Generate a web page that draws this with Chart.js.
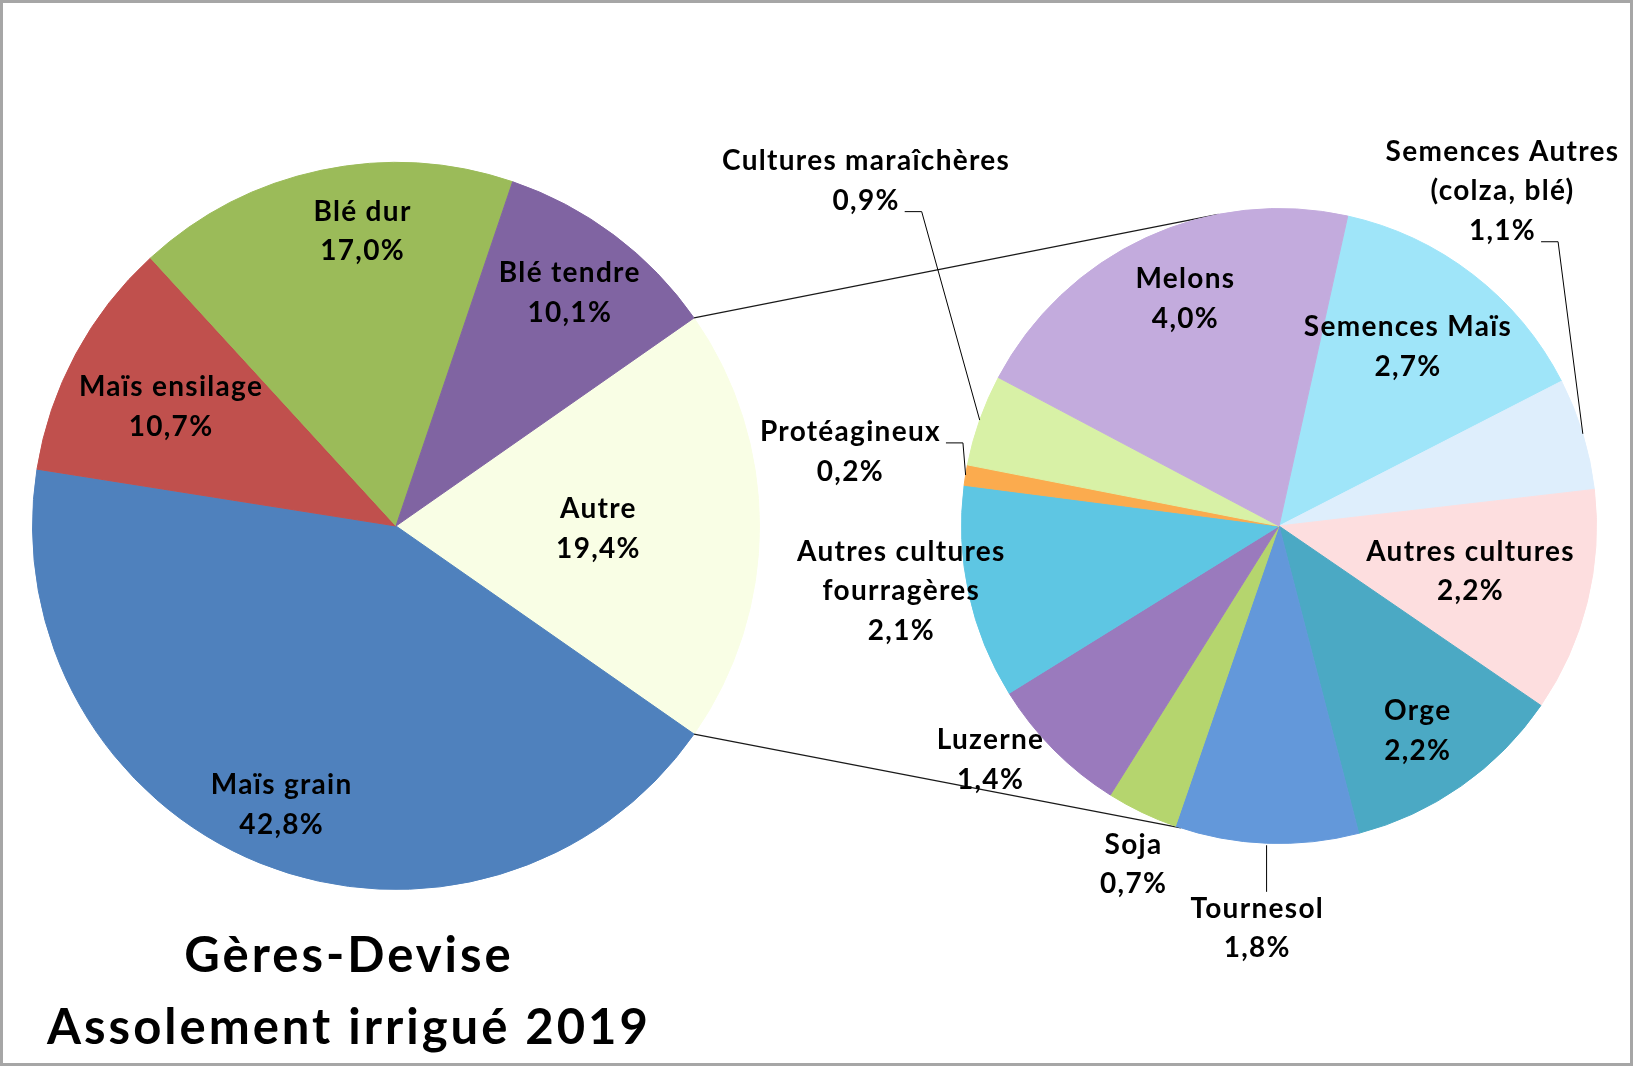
<!DOCTYPE html>
<html>
<head>
<meta charset="utf-8">
<script src="https://cdn.jsdelivr.net/npm/chart.js@4/dist/chart.umd.min.js"></script>
<style>
html,body{margin:0;padding:0;background:#fff;}
#wrap{position:relative;width:1633px;height:1066px;overflow:hidden;background:#fff;}
canvas{position:absolute;left:0;top:0;}
#frame{position:absolute;left:0;top:0;width:1633px;height:1066px;box-sizing:border-box;border:3px solid #A6A6A6;pointer-events:none;}
.title{position:absolute;left:-51px;width:800px;text-align:center;font-family:Lato,"Open Sans",sans-serif;font-weight:bold;font-size:49px;line-height:49px;letter-spacing:3px;color:#000;white-space:nowrap;}
</style>
</head>
<body>
<div id="wrap">
  <canvas id="mainPie" width="1633" height="1066"></canvas>
  <canvas id="subPie" width="1633" height="1066"></canvas>
  <div class="title" id="t1" style="top:929px"></div>
  <div class="title" id="t2" style="top:1001px"></div>
  <div id="frame"></div>
</div>
<script>
// ---------- DATA ----------
const mainLabels = ['Autre', 'Maïs grain', 'Maïs ensilage', 'Blé dur', 'Blé tendre'];
const mainValues = [19.4, 42.8, 10.7, 17.0, 10.1];
const mainColors = ['#F9FEE5', '#4F81BD', '#C0504D', '#9BBB59', '#8064A2'];

const subLabels = ['Semences Maïs', 'Semences Autres\n(colza, blé)', 'Autres cultures', 'Orge', 'Tournesol', 'Soja', 'Luzerne', 'Autres cultures\nfourragères', 'Protéagineux', 'Cultures maraîchères', 'Melons'];
const subValues = [2.7, 1.1, 2.2, 2.2, 1.8, 0.7, 1.4, 2.1, 0.2, 0.9, 4.0];
const subColors = ['#9FE5F9', '#DEEEFC', '#FDDEDF', '#4BA9C4', '#6398DA', '#B5D56E', '#9A7ABD', '#5EC6E3', '#FBAB4E', '#D8F1A6', '#C3ABDD'];

const titleLines = ['Gères-Devise', 'Assolement irrigué 2019'];

// ---------- STYLE / LAYOUT ----------
const FONT_FAMILY = 'Lato, "Open Sans", sans-serif';
const FONT = 'bold 28px ' + FONT_FAMILY;
const LETTER_SPACING = '1.3px';
const LINE_H = 39.6;

// label placement: radius factor of outer radius, angle offset from slice middle (deg)
const mainPlace = [
  {rf: 0.557, da: 0.9},
  {rf: 0.83, da: 0.3},
  {rf: 0.70, da: -0.4},
  {rf: 0.815, da: 5.4},
  {rf: 0.80, da: -0.2}
];
const subPlace = [
  {rf: 0.695, da: -1.9},
  {rf: 1.268, da: -39.4, leader: 'side', line: 2},
  {rf: 0.62, da: -0.5},
  {rf: 0.78, da: 1.0},
  {rf: 1.27, da: 0.85, leader: 'top'},
  {rf: 1.16, da: -2.3},
  {rf: 1.17, da: 5.8},
  {rf: 1.207, da: 2.4},
  {rf: 1.37, da: 0.6, leader: 'side', line: 0},
  {rf: 1.695, da: 20.4, leader: 'side', line: 1},
  {rf: 0.773, da: 2.4}
];

document.getElementById('t1').textContent = titleLines[0];
document.getElementById('t2').textContent = titleLines[1];

function pct(v) { return v.toFixed(1).replace('.', ',') + '%'; }

function labelPlugin(labels, values, place) {
  return {
    id: 'sliceLabels',
    afterDatasetsDraw(chart) {
      const ctx = chart.ctx;
      const meta = chart.getDatasetMeta(0);
      ctx.save();
      ctx.font = FONT;
      if ('letterSpacing' in ctx) ctx.letterSpacing = LETTER_SPACING;
      ctx.fillStyle = '#000';
      ctx.strokeStyle = '#000';
      ctx.lineWidth = 1;
      ctx.textAlign = 'center';
      ctx.textBaseline = 'middle';
      meta.data.forEach((arc, i) => {
        const p = place[i];
        const mid = (arc.startAngle + arc.endAngle) / 2;
        const a = mid + p.da * Math.PI / 180;
        const r = arc.outerRadius * p.rf;
        const cx = arc.x + r * Math.cos(a);
        const cy = arc.y + r * Math.sin(a);
        const lines = labels[i].split('\n').concat([pct(values[i])]);
        const n = lines.length;
        lines.forEach((t, k) => {
          ctx.fillText(t, cx, cy + (k - (n - 1) / 2) * LINE_H);
        });
        const rimX = arc.x + arc.outerRadius * Math.cos(mid);
        const rimY = arc.y + arc.outerRadius * Math.sin(mid);
        if (p.leader === 'side') {
          const y = cy + (p.line - (n - 1) / 2) * LINE_H + 11;
          const w = ctx.measureText(lines[p.line]).width;
          const x0 = cx + w / 2 + 5;
          ctx.beginPath();
          ctx.moveTo(x0, y);
          ctx.lineTo(x0 + 17, y);
          ctx.lineTo(rimX, rimY);
          ctx.stroke();
        } else if (p.leader === 'top') {
          const yTop = cy - (n - 1) / 2 * LINE_H - 17;
          ctx.beginPath();
          ctx.moveTo(rimX, rimY + 2);
          ctx.lineTo(rimX, yTop);
          ctx.stroke();
        }
      });
      ctx.restore();
    }
  };
}

const sum = a => a.reduce((s, v) => s + v, 0);

// main pie: "Autre" slice centred on the right horizontal
const mainRotation = 90 - (mainValues[0] / sum(mainValues) * 360) / 2;

const mainChart = new Chart(document.getElementById('mainPie'), {
  type: 'pie',
  data: {
    labels: mainLabels,
    datasets: [{data: mainValues, backgroundColor: mainColors, borderColor: mainColors, borderWidth: 1}]
  },
  options: {
    responsive: false,
    animation: false,
    rotation: mainRotation,
    layout: {padding: {left: 32, top: 162, right: 873, bottom: 176}},
    plugins: {legend: {display: false}, tooltip: {enabled: false}, title: {display: false}}
  },
  plugins: [labelPlugin(mainLabels, mainValues, mainPlace)]
});

const connectorAngles = [-101, 108];

const connectorPlugin = {
  id: 'connectors',
  beforeDatasetsDraw(chart) {
    const other = mainChart.getDatasetMeta(0).data[0];
    const sub = chart.getDatasetMeta(0).data[0];
    const ctx = chart.ctx;
    ctx.save();
    ctx.strokeStyle = '#1a1a1a';
    ctx.lineWidth = 1.2;
    const ends = [other.startAngle, other.endAngle];
    ends.forEach((ang, k) => {
      const x1 = other.x + other.outerRadius * Math.cos(ang);
      const y1 = other.y + other.outerRadius * Math.sin(ang);
      const b = connectorAngles[k] * Math.PI / 180;
      const x2 = sub.x + sub.outerRadius * Math.cos(b);
      const y2 = sub.y + sub.outerRadius * Math.sin(b);
      ctx.beginPath();
      ctx.moveTo(x1, y1);
      ctx.lineTo(x2, y2);
      ctx.stroke();
    });
    ctx.restore();
  }
};

new Chart(document.getElementById('subPie'), {
  type: 'pie',
  data: {
    labels: subLabels,
    datasets: [{data: subValues, backgroundColor: subColors, borderColor: subColors, borderWidth: 1}]
  },
  options: {
    responsive: false,
    animation: false,
    rotation: 12.5,
    layout: {padding: {left: 961, top: 208, right: 36, bottom: 222}},
    plugins: {legend: {display: false}, tooltip: {enabled: false}, title: {display: false}}
  },
  plugins: [connectorPlugin, labelPlugin(subLabels, subValues, subPlace)]
});
</script>
</body>
</html>
